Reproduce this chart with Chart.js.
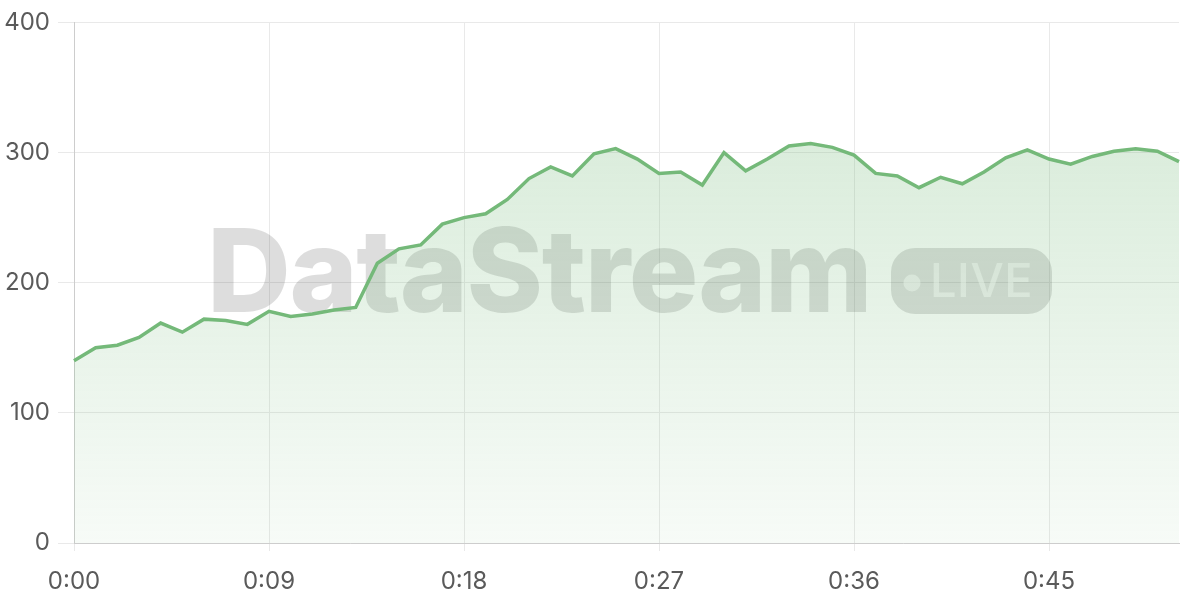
<!DOCTYPE html>
<html>
<head>
<meta charset="utf-8">
<script src="https://cdn.jsdelivr.net/npm/chart.js@4.4.1/dist/chart.umd.min.js"></script>
<style>
  html, body { margin: 0; padding: 0; background: #fff; }
  #wrap { width: 1200px; height: 600px; }
</style>
</head>
<body>
<div id="wrap"><canvas id="streamChart"></canvas></div>
<script>
// DATA
const minutes = [
    '0:00', '0:01', '0:02', '0:03', '0:04', '0:05', '0:06', '0:07', '0:08', '0:09',
    '0:10', '0:11', '0:12', '0:13', '0:14', '0:15', '0:16', '0:17', '0:18', '0:19',
    '0:20', '0:21', '0:22', '0:23', '0:24', '0:25', '0:26', '0:27', '0:28', '0:29',
    '0:30', '0:31', '0:32', '0:33', '0:34', '0:35', '0:36', '0:37', '0:38', '0:39',
    '0:40', '0:41', '0:42', '0:43', '0:44', '0:45', '0:46', '0:47', '0:48', '0:49',
    '0:50', '0:51'
];
const viewers = [
    140, 150, 152, 158, 169, 162, 172, 171, 168, 178,
    174, 176, 179, 181, 215, 226, 229, 245, 250, 253,
    264, 280, 289, 282, 299, 303, 295, 284, 285, 275,
    300, 286, 295, 305, 307, 304, 298, 284, 282, 273,
    281, 276, 285, 296, 302, 295, 291, 297, 301, 303,
    301, 293
];
const tickEvery = 9;
const yTicks = [0, 100, 200, 300, 400];

// WATERMARK
const watermark = {
    id: 'watermark',
    beforeDatasetsDraw(chart) {
        const c = chart.ctx;
        c.save();
        c.font = '800 116px Inter, "Open Sans", sans-serif';
        c.textBaseline = 'alphabetic';
        c.textAlign = 'left';
        c.fillStyle = 'rgba(0, 0, 0, 0.135)';
        c.letterSpacing = '-1.4px';
        c.fillText('DataStream', 207, 312);

        // LIVE pill
        c.beginPath();
        c.roundRect(891, 248, 161, 66, 24);
        c.fill();
        c.fillStyle = 'rgba(255, 255, 255, 0.55)';
        c.beginPath();
        c.arc(912, 283, 8.5, 0, Math.PI * 2);
        c.fill();
        c.letterSpacing = '0.5px';
        c.font = '500 47px Inter, "Open Sans", sans-serif';
        c.fillText('LIVE', 930, 297);
        c.restore();
    }
};

// CHART
const ctx = document.getElementById('streamChart');
const tickFont = { size: 24, family: 'Inter, "Noto Sans", sans-serif' };

if (ctx) {
    new Chart(ctx, {
        type: 'line',
        data: {
            labels: minutes,
            datasets: [{
                data: viewers,
                borderColor: '#74b979',
                borderWidth: 3.5,
                pointRadius: 0,
                tension: 0,
                fill: true,
                backgroundColor: (context) => {
                    const area = context.chart.chartArea;
                    if (!area) return 'rgba(116, 185, 121, 0.2)';
                    const g = context.chart.ctx.createLinearGradient(0, area.top, 0, area.bottom);
                    g.addColorStop(0, 'rgba(116, 185, 121, 0.32)');
                    g.addColorStop(1, 'rgba(116, 185, 121, 0.06)');
                    return g;
                }
            }]
        },
        options: {
            responsive: true,
            maintainAspectRatio: false,
            animation: false,
            layout: { padding: { top: 19, right: 21, left: 0, bottom: 0 } },
            plugins: {
                legend: { display: false },
                tooltip: { enabled: false }
            },
            scales: {
                x: {
                    offset: false,
                    afterFit: (axis) => { axis.height = 57; },
                    grid: { color: '#e9e9e9', tickLength: 8 },
                    border: { color: '#cdcdcd' },
                    ticks: {
                        autoSkip: false,
                        maxRotation: 0,
                        color: '#5a5a5a',
                        font: tickFont,
                        padding: 16,
                        callback: (val, i) => (i % tickEvery === 0 ? minutes[i] : null)
                    }
                },
                y: {
                    min: yTicks[0],
                    max: yTicks[yTicks.length - 1],
                    afterFit: (axis) => { axis.width = 74; },
                    grid: { color: '#e9e9e9', tickLength: 16 },
                    border: { color: '#cdcdcd' },
                    afterBuildTicks: (axis) => {
                        axis.ticks = yTicks.map(v => ({ value: v }));
                    },
                    ticks: {
                        color: '#5a5a5a',
                        font: tickFont,
                        padding: 8
                    }
                }
            }
        },
        plugins: [watermark]
    });
}
</script>
</body>
</html>
